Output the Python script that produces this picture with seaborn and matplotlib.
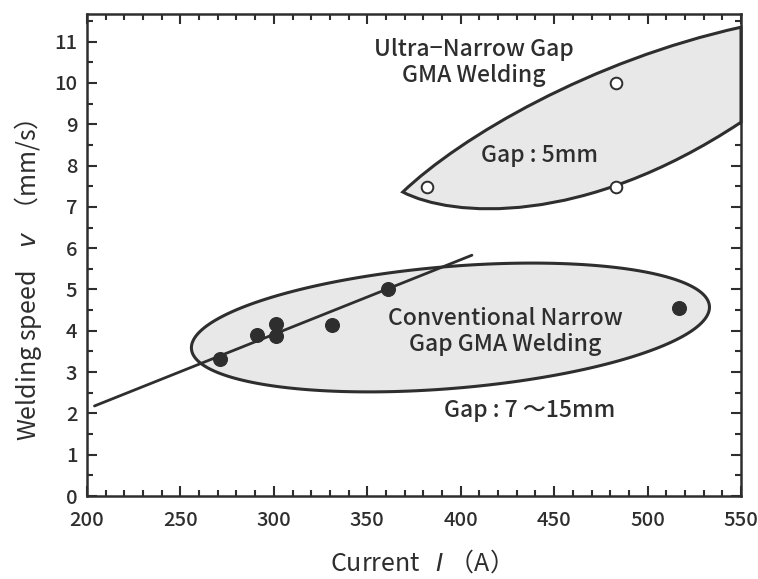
import numpy as np
import pandas as pd
import seaborn as sns
import matplotlib
matplotlib.use("Agg")
import matplotlib.pyplot as plt
from matplotlib.path import Path
from matplotlib.patches import PathPatch, Polygon
from matplotlib.ticker import MultipleLocator

# ---- data ----
conv_current = [271, 291, 301, 301, 331, 361, 517]
conv_speed = [3.32, 3.90, 4.16, 3.87, 4.15, 5.00, 4.55]
ultra_current = [382, 483, 483]
ultra_speed = [7.48, 10.0, 7.48]
fit_current = [204, 406]
fit_speed = [2.18, 5.83]
x_ticks = [200, 250, 300, 350, 400, 450, 500, 550]
y_ticks = [0, 1, 2, 3, 4, 5, 6, 7, 8, 9, 10, 11]

INK = "#2e2e2e"
FILL = "#e8e8e8"

sns.set_theme(style="ticks")
plt.rcParams["font.family"] = ["Noto Sans CJK JP", "DejaVu Sans"]
plt.rcParams["font.weight"] = "medium"
plt.rcParams["mathtext.fontset"] = "custom"
plt.rcParams["mathtext.it"] = "DejaVu Sans:italic"
plt.rcParams["mathtext.rm"] = "DejaVu Sans"

fig = plt.figure(figsize=(7.58, 5.79), dpi=100)
ax = fig.add_axes([87 / 758, 1 - 496 / 579, (741 - 87) / 758, (496 - 14) / 579])

# ---- region shapes (annotations) ----
cx, cy = 394.5, 4.08
u = np.array([138.6, 0.52])
v = np.array([-2.7, 1.47])
t = np.linspace(0, 2 * np.pi, 300)
pts = np.column_stack([cx + np.cos(t) * u[0] + np.sin(t) * v[0],
                       cy + np.cos(t) * u[1] + np.sin(t) * v[1]])
ax.add_patch(Polygon(pts, closed=True, facecolor=FILL, edgecolor=INK,
                     linewidth=2.2, zorder=1))

verts = [(369, 7.36), (400, 8.7), (470, 10.55), (550, 11.35),
         (550, 9.05), (465, 6.5), (395, 6.75), (369, 7.36), (369, 7.36)]
codes = [Path.MOVETO, Path.CURVE4, Path.CURVE4, Path.CURVE4,
         Path.LINETO, Path.CURVE4, Path.CURVE4, Path.CURVE4, Path.CLOSEPOLY]
ax.add_patch(PathPatch(Path(verts, codes), facecolor=FILL, edgecolor=INK,
                       linewidth=2.2, zorder=1, clip_on=False))

# ---- marks ----
sns.lineplot(x=fit_current, y=fit_speed, ax=ax, color=INK, linewidth=2.0,
             zorder=3, sort=False)
sns.scatterplot(x=conv_current, y=conv_speed, ax=ax, s=100, color=INK,
                edgecolor=INK, zorder=4)
sns.scatterplot(x=ultra_current, y=ultra_speed, ax=ax, s=70, facecolor="white",
                edgecolor=INK, linewidth=1.4, zorder=4)

# ---- texts ----
fs = 16.5
ax.text(407, 10.5, "Ultra\u2212Narrow Gap\nGMA Welding", ha="center", va="center",
        fontsize=fs, color=INK, linespacing=1.2, zorder=5)
ax.text(442, 8.25, "Gap : 5mm", ha="center", va="center", fontsize=fs,
        color=INK, zorder=5)
ax.text(424, 3.98, "Conventional Narrow\nGap GMA Welding", ha="center",
        va="center", fontsize=fs, color=INK, linespacing=1.2, zorder=5)
ax.text(437, 2.08, "Gap : 7 \uff5e15mm", ha="center", va="center",
        fontsize=fs, color=INK, zorder=5)

# ---- axes ----
ax.set_xlim(200, 550)
ax.set_ylim(0, 11.67)
ax.set_xticks(x_ticks)
ax.set_yticks(y_ticks)
ax.set_xticklabels([str(x) for x in x_ticks])
ax.set_yticklabels([str(y) for y in y_ticks])
ax.xaxis.set_minor_locator(MultipleLocator(10))
ax.yaxis.set_minor_locator(MultipleLocator(0.5))
ax.tick_params(which="both", direction="in", top=True, right=True,
               color=INK, width=1.5, labelcolor=INK)
ax.tick_params(which="major", length=7, labelsize=14.5)
ax.tick_params(which="minor", length=4)
ax.tick_params(axis="x", which="major", pad=11)
ax.tick_params(axis="y", which="major", pad=7)
for sp in ax.spines.values():
    sp.set_color(INK)
    sp.set_linewidth(1.8)
ax.grid(False)

ax.set_xlabel("Current   $I$ \uff08A\uff09", fontsize=18, color=INK)
ax.xaxis.set_label_coords(0.5, -0.11)
ax.set_ylabel("Welding speed    $v$  \uff08mm/s\uff09", fontsize=18, color=INK)
ax.yaxis.set_label_coords(-0.09, 0.448)
ax.yaxis.label.set_verticalalignment("center")

fig.savefig("out.png", dpi=100)
